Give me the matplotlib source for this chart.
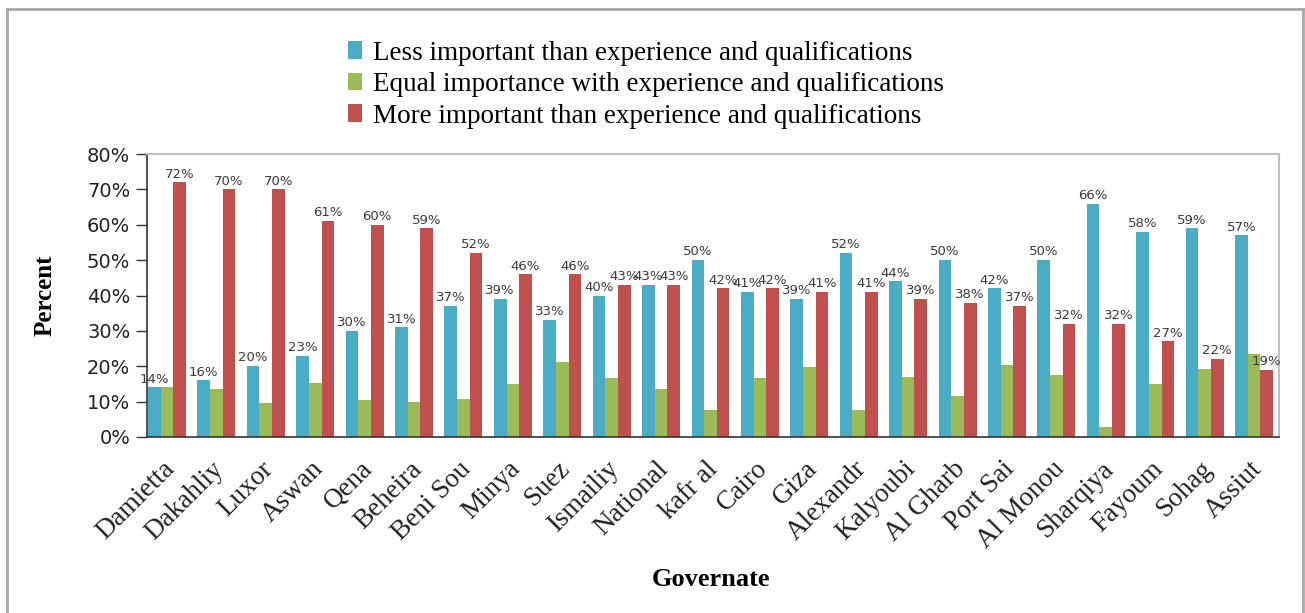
import numpy as np
import matplotlib.pyplot as plt
import matplotlib.transforms as mtransforms
from matplotlib.lines import Line2D
from matplotlib.ticker import PercentFormatter

# Survey results by governate (percent of respondents)
governates = ['Damietta', 'Dakahliy', 'Luxor', 'Aswan', 'Qena', 'Beheira', 'Beni Sou',
              'Minya', 'Suez', 'Ismailiy', 'National', 'kafr al', 'Cairo', 'Giza',
              'Alexandr', 'Kalyoubi', 'Al Gharb', 'Port Sai', 'Al Monou', 'Sharqiya',
              'Fayoum', 'Sohag', 'Assiut']
less_important = [14, 16, 20, 23, 30, 31, 37, 39, 33, 40, 43, 50, 41, 39, 52, 44, 50, 42,
                  50, 66, 58, 59, 57]
equal_importance = [14, 13.5, 9.7, 15.3, 10.5, 10, 10.7, 14.9, 21.3, 16.7, 13.6, 7.5, 16.7,
                    19.8, 7.5, 17, 11.6, 20.3, 17.5, 2.9, 14.9, 19.3, 23.6]
more_important = [72, 70, 70, 61, 60, 59, 52, 46, 46, 43, 43, 42, 42, 41, 41, 39, 38, 37,
                  32, 32, 27, 22, 19]
series_names = ['Less important than experience and qualifications',
                'Equal importance with experience and qualifications',
                'More important than experience and qualifications']
colors = ['#4BACC6', '#9BBB59', '#C0504D']

serif = 'Liberation Serif'

fig = plt.figure(figsize=(13.05, 6.13), dpi=100)
ax = fig.add_axes([147 / 1305, 1 - 437 / 613, 1132 / 1305, 283 / 613])

x = np.arange(len(governates))
w = 0.256
series = [less_important, equal_importance, more_important]
bar_sets = []
for i, (vals, col) in enumerate(zip(series, colors)):
    bars = ax.bar(x + (i - 1) * w, vals, width=w, color=col, zorder=2)
    bar_sets.append(bars)

# value labels on blue and red bars only
for idx in (0, 2):
    for b, v in zip(bar_sets[idx], series[idx]):
        ax.text(b.get_x() + b.get_width() / 2, v + 0.5, f'{v:.0f}%', ha='center',
                va='bottom', fontsize=9.5, color='#3a3a3a', zorder=3)

ax.set_xlim(-0.404, 22.505)
ax.set_ylim(0, 80)
ax.set_yticks(np.arange(0, 81, 10))
ax.yaxis.set_major_formatter(PercentFormatter(decimals=0))
ax.tick_params(axis='y', labelsize=14, length=8, width=1, direction='out', pad=4,
               labelcolor='#222222', color='#333333')
ax.tick_params(axis='x', length=0, pad=14)
ax.set_xticks(x)
ax.set_xticklabels(governates, rotation=45, ha='right', rotation_mode='anchor',
                   fontsize=19.5, family=serif, color='#222222')
shift = mtransforms.ScaledTranslation(-5 / 100, 0, fig.dpi_scale_trans)
for lbl in ax.get_xticklabels():
    lbl.set_transform(lbl.get_transform() + shift)

for side in ('top', 'right'):
    ax.spines[side].set_color('#c0c0c0')
    ax.spines[side].set_linewidth(1.5)
for side in ('left', 'bottom'):
    ax.spines[side].set_color('#333333')
    ax.spines[side].set_linewidth(1.2)

ax.set_ylabel('Percent', fontsize=18, fontweight='bold', family=serif)
ax.yaxis.set_label_coords((57 - 147) / 1132, 0.5)
fig.text(711 / 1305, 1 - 579 / 613, 'Governate', ha='center', va='center', fontsize=19,
         fontweight='bold', family=serif)

fig.legend(bar_sets, series_names, loc='upper left', bbox_to_anchor=(334 / 1305, 1 - 27 / 613),
           frameon=False, prop={'family': serif, 'size': 19.5}, borderpad=0,
           handlelength=0.55, handleheight=0.6, handletextpad=0.4, labelspacing=0.24)

# outer chart border
border = dict(color='#a8a8a8', linewidth=2, transform=fig.transFigure)
fig.add_artist(Line2D([7 / 1305, 7 / 1305], [-0.01, 1 - 9 / 613], **border))
fig.add_artist(Line2D([7 / 1305, 1303 / 1305], [1 - 9 / 613, 1 - 9 / 613], **border))
fig.add_artist(Line2D([1303 / 1305, 1303 / 1305], [-0.01, 1 - 9 / 613], **border))

fig.savefig('out.png', dpi=100)
